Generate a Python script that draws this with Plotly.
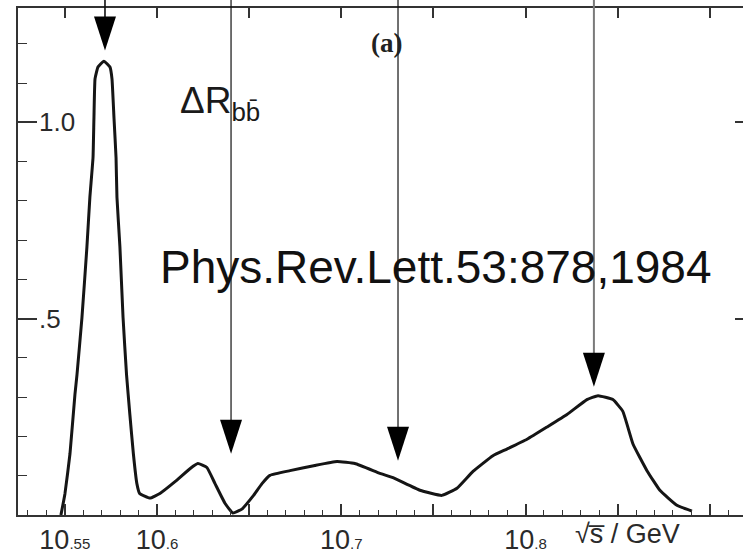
import plotly.graph_objects as go

# Delta R_bb versus centre-of-mass energy (GeV)
energy = [10.5479, 10.5501, 10.5528, 10.5555, 10.5566, 10.5593, 10.5620, 10.5636,
          10.5653, 10.5658, 10.5664, 10.5680, 10.5712, 10.5745, 10.5756, 10.5767,
          10.5778, 10.5783, 10.5799, 10.5816, 10.5835, 10.5853, 10.5872, 10.5891,
          10.5906, 10.5962, 10.6016, 10.6098, 10.6179, 10.6222, 10.6271, 10.6315,
          10.6369, 10.6412, 10.6461, 10.6521, 10.6570, 10.6613, 10.6722, 10.6857,
          10.6977, 10.7074, 10.7210, 10.7281, 10.7427, 10.7546, 10.7628, 10.7715,
          10.7823, 10.7899, 10.8008, 10.8116, 10.8225, 10.8333, 10.8393, 10.8474,
          10.8528, 10.8583, 10.8659, 10.8729, 10.8821, 10.8903]
delta_r = [0.000, 0.055, 0.156, 0.307, 0.357, 0.503, 0.683, 0.809,
           0.910, 1.010, 1.111, 1.141, 1.156, 1.141, 1.111, 1.010,
           0.910, 0.809, 0.683, 0.503, 0.357, 0.256, 0.156, 0.080,
           0.055, 0.043, 0.055, 0.085, 0.118, 0.131, 0.121, 0.080,
           0.030, 0.005, 0.015, 0.048, 0.080, 0.101, 0.113, 0.126,
           0.136, 0.131, 0.106, 0.095, 0.063, 0.050, 0.068, 0.111,
           0.151, 0.168, 0.193, 0.224, 0.256, 0.294, 0.304, 0.294,
           0.264, 0.181, 0.113, 0.063, 0.025, 0.010]

# Marked states: energy and the height of the arrow tip
arrow_energy = [10.5718, 10.6402, 10.7308, 10.8371]
arrow_tip = [1.183, 0.156, 0.138, 0.327]
arrow_color = ["#111111", "#111111", "#111111", "#7a7a7a"]
arrow_width = [1.6, 1.2, 1.2, 2.0]

# long ticks every 0.05 GeV; only some of them carry a label
x_major = [10.55, 10.60, 10.65, 10.70, 10.75, 10.80, 10.85, 10.90]
x_labelled = [10.55, 10.60, 10.70, 10.80]
x_labels = ["10<span style='font-size:15px'>.55</span>",
            "10<span style='font-size:15px'>.6</span>",
            "10<span style='font-size:15px'>.7</span>",
            "10<span style='font-size:15px'>.8</span>"]
y_major = [0.5, 1.0]
y_labels = [".5", "1.0"]

x_range = [10.5246, 10.918]
y_range = [0.0, 1.2915]

AXIS = "#333333"
FONT = "Liberation Sans, Arial, sans-serif"
NARROW = "Liberation Sans Narrow, Liberation Sans, Arial, sans-serif"

fig = go.Figure()
fig.add_trace(go.Scatter(
    x=energy, y=delta_r, mode="lines",
    line=dict(color="#151515", width=3, shape="spline", smoothing=0.35),
    hoverinfo="skip", showlegend=False))
# invisible copies that carry the extra tick axes (top/right frame, bottom long ticks)
fig.add_trace(go.Scatter(
    x=energy, y=delta_r, mode="lines", xaxis="x2", yaxis="y2",
    line=dict(width=0), opacity=0, hoverinfo="skip", showlegend=False))
fig.add_trace(go.Scatter(
    x=energy, y=delta_r, mode="lines", xaxis="x3", yaxis="y",
    line=dict(width=0), opacity=0, hoverinfo="skip", showlegend=False))

def frac(v, rng):
    return (v - rng[0]) / (rng[1] - rng[0])

for e, tip, col, w in zip(arrow_energy, arrow_tip, arrow_color, arrow_width):
    xp = frac(e, x_range)
    yp = frac(tip, y_range)
    fig.add_shape(type="line", xref="paper", yref="paper",
                  x0=xp, x1=xp, y0=yp + 0.02, y1=1.03,
                  line=dict(color=col, width=w), layer="above")
    fig.add_shape(type="path", xref="paper", yref="paper",
                  xsizemode="pixel", ysizemode="pixel",
                  xanchor=xp, yanchor=yp,
                  path="M -11,34 L 11,34 L 0,0 Z",
                  fillcolor="#000000", line=dict(width=0), layer="above")

# y tick labels sit inside the frame, just right of the long ticks
for val, lab in zip(y_major, y_labels):
    fig.add_annotation(xref="paper", yref="y", x=0, y=val, xshift=19,
                       xanchor="left", yanchor="middle", showarrow=False,
                       text=lab, font=dict(family=NARROW, size=26, color="#2a2a2a"))

fig.add_annotation(xref="paper", yref="paper", x=0.2207, y=0.813,
                   xanchor="left", yanchor="middle", showarrow=False,
                   text="ΔR<sub>bb̄</sub>",
                   font=dict(family=FONT, size=37, color="#1a1a1a"))
fig.add_annotation(xref="paper", yref="paper", x=0.5076, y=0.930,
                   xanchor="center", yanchor="middle", showarrow=False,
                   text="<b>(a)</b>",
                   font=dict(family="Liberation Serif, Times New Roman, serif",
                             size=27, color="#222222"))
fig.add_annotation(xref="paper", yref="paper", x=0.577, y=0.490,
                   xanchor="center", yanchor="middle", showarrow=False,
                   text="Phys.Rev.Lett.53:878,1984",
                   font=dict(family=FONT, size=46, color="#111111"))
fig.add_annotation(xref="paper", yref="paper", x=0.841, y=-0.037,
                   xanchor="center", yanchor="middle", showarrow=False,
                   text="√s̅ / GeV",
                   font=dict(family=NARROW, size=27, color="#2a2a2a"))

fig.update_layout(
    width=743, height=555,
    margin=dict(l=18, r=0, t=8, b=33, pad=0),
    paper_bgcolor="white", plot_bgcolor="white",
    showlegend=False,
    xaxis=dict(range=x_range, showgrid=False, zeroline=False,
               showline=True, linecolor=AXIS, linewidth=2,
               ticks="inside", ticklen=11, tickwidth=1.5, tickcolor=AXIS,
               tickmode="array", tickvals=x_labelled, ticktext=x_labels,
               tickfont=dict(family=NARROW, size=27, color="#2a2a2a"),
               minor=dict(tickmode="linear", tick0=10.55, dtick=0.01,
                          ticks="inside", ticklen=5, tickwidth=1.3,
                          tickcolor=AXIS, showgrid=False)),
    xaxis3=dict(range=x_range, overlaying="x", side="bottom", anchor="y",
                showgrid=False, zeroline=False, showline=False,
                ticks="inside", ticklen=11, tickwidth=1.5, tickcolor=AXIS,
                tickmode="array", tickvals=x_major, showticklabels=False),
    yaxis=dict(range=y_range, showgrid=False, zeroline=False,
               showline=True, linecolor=AXIS, linewidth=2,
               ticks="inside", ticklen=19, tickwidth=1.5, tickcolor=AXIS,
               tickmode="array", tickvals=y_major, showticklabels=False,
               minor=dict(tickmode="linear", tick0=0, dtick=0.1,
                          ticks="inside", ticklen=9, tickwidth=1.3,
                          tickcolor=AXIS, showgrid=False)),
    xaxis2=dict(range=x_range, overlaying="x", side="top", anchor="y2",
                showgrid=False, zeroline=False, showline=True,
                linecolor=AXIS, linewidth=2, ticks="inside", ticklen=10,
                tickwidth=1.5, tickcolor=AXIS, tickmode="array",
                tickvals=x_major, showticklabels=False),
    yaxis2=dict(range=y_range, overlaying="y", side="right", anchor="x2",
                showgrid=False, zeroline=False, showline=False,
                ticks="inside", ticklen=8, tickwidth=1.5, tickcolor=AXIS,
                tickmode="array", tickvals=y_major, showticklabels=False),
)

fig.write_html("out.html")
